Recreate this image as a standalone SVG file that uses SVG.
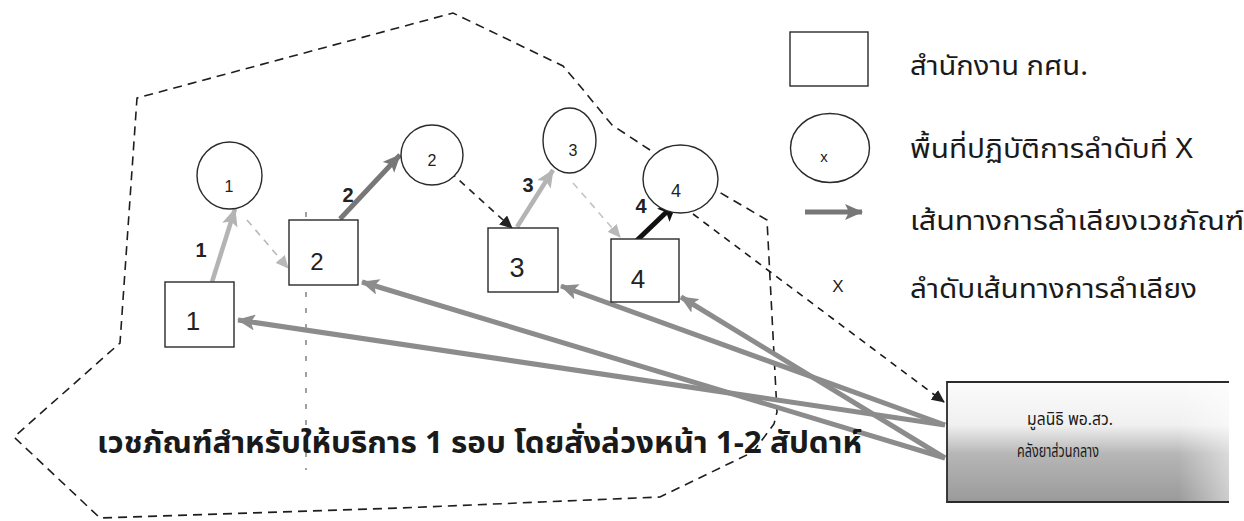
<svg xmlns="http://www.w3.org/2000/svg" width="1244" height="521" viewBox="0 0 1244 521">
  <style>
    .thai { font-family: "Noto Sans Thai", "Noto Sans Thai UI", "Loma", "Garuda", "Tlwg Typo", "Noto Sans", "DejaVu Sans", sans-serif; fill: #1a1a1a; }
    .num { font-family: "Liberation Sans", Arial, sans-serif; fill: #222; }
    .box { fill: #ffffff; stroke: #2a2a2a; stroke-width: 1.4; }
    .area { fill: #ffffff; stroke: #2a2a2a; stroke-width: 1.4; }
    .boundary { fill: none; stroke: #1e1e1e; stroke-width: 1.6; stroke-dasharray: 9 6; }
    .supply { fill: none; stroke: #8c8c8c; stroke-width: 5; marker-end: url(#headGray); }
    .dash { fill: none; stroke-width: 1.6; stroke-dasharray: 7 6; }
  </style>
  <defs>
    <marker id="headGray" markerUnits="userSpaceOnUse" markerWidth="20" markerHeight="16" refX="17" refY="8" orient="auto">
      <path d="M0,0 L18,8 L0,16 L4,8 z" fill="#8c8c8c"/>
    </marker>
    <marker id="headDark" markerUnits="userSpaceOnUse" markerWidth="20" markerHeight="16" refX="17" refY="8" orient="auto">
      <path d="M0,0 L18,8 L0,16 L4,8 z" fill="#777"/>
    </marker>
    <marker id="headLight" markerUnits="userSpaceOnUse" markerWidth="20" markerHeight="16" refX="17" refY="8" orient="auto">
      <path d="M0,0 L18,8 L0,16 L4,8 z" fill="#b4b4b4"/>
    </marker>
    <marker id="headBlack" markerUnits="userSpaceOnUse" markerWidth="22" markerHeight="18" refX="19" refY="9" orient="auto">
      <path d="M0,0 L20,9 L0,18 L4,9 z" fill="#111"/>
    </marker>
    <marker id="headSmallLight" markerUnits="userSpaceOnUse" markerWidth="14" markerHeight="12" refX="12" refY="6" orient="auto">
      <path d="M0,0 L13,6 L0,12 z" fill="#b8b8b8"/>
    </marker>
    <marker id="headSmallBlack" markerUnits="userSpaceOnUse" markerWidth="14" markerHeight="12" refX="12" refY="6" orient="auto">
      <path d="M0,0 L13,6 L0,12 z" fill="#222"/>
    </marker>
    <linearGradient id="stockFill" x1="0" y1="0" x2="0" y2="1">
      <stop offset="0" stop-color="#fbfbfb"/>
      <stop offset="0.36" stop-color="#f0f0f0"/>
      <stop offset="0.6" stop-color="#b6b6b6"/>
      <stop offset="1" stop-color="#9a9a9a"/>
    </linearGradient>
    <linearGradient id="stockFade" x1="0" y1="0" x2="1" y2="0">
      <stop offset="0.82" stop-color="#ffffff" stop-opacity="0"/>
      <stop offset="1" stop-color="#ffffff" stop-opacity="0.5"/>
    </linearGradient>
  </defs>

  <rect x="0" y="0" width="1244" height="521" fill="#ffffff"/>

  <!-- service area outline -->
  <g id="service-area">
    <path class="boundary" d="M650,150 L612,125 L580,86 L563,66 L453,13 L137,98 L120,343 L14,437 L100,518 L400,508 L660,497 L753,452 L774,424 L777,412 L767,220 L719,192"/>
    <path d="M306,212 L306,470" fill="none" stroke="#333" stroke-width="1.3" stroke-dasharray="5 11" opacity="0.7"/>
  </g>

  <!-- connectors -->
  <g id="connectors">
    <!-- supply from the central store to each office -->
    <path class="supply" d="M945,425 L238,320"/>
    <path class="supply" d="M945,458 L362,282"/>
    <path class="supply" d="M945,425 L561,286"/>
    <path class="supply" d="M945,458 L681,297"/>

    <!-- office to operating area -->
    <path d="M212,282 L235,209" fill="none" stroke="#b4b4b4" stroke-width="4.5" marker-end="url(#headLight)"/>
    <path d="M340,219 L400,155" fill="none" stroke="#777" stroke-width="5" marker-end="url(#headDark)"/>
    <path d="M517,227 L553,170" fill="none" stroke="#b4b4b4" stroke-width="4.5" marker-end="url(#headLight)"/>
    <path d="M630,247 L677,202" fill="none" stroke="#111" stroke-width="5" marker-end="url(#headBlack)"/>

    <!-- onward movement between areas -->
    <path class="dash" d="M247,220 L288,268" stroke="#b8b8b8" marker-end="url(#headSmallLight)"/>
    <path class="dash" d="M450,172 L512,228" stroke="#222" marker-end="url(#headSmallBlack)"/>
    <path class="dash" d="M573,183 L620,237" stroke="#c4c4c4" marker-end="url(#headSmallLight)"/>
    <path class="dash" d="M693,214 L944,402" stroke="#1a1a1a" marker-end="url(#headSmallBlack)"/>
  </g>

  <!-- offices -->
  <g id="office-1">
    <rect class="box" x="165" y="282" width="69" height="65"/>
    <text class="num" x="193" y="330" font-size="26" text-anchor="middle">1</text>
  </g>
  <g id="office-2">
    <rect class="box" x="289" y="220" width="69" height="65"/>
    <text class="num" x="317" y="270" font-size="24" text-anchor="middle">2</text>
  </g>
  <g id="office-3">
    <rect class="box" x="488" y="228" width="70" height="64"/>
    <text class="num" x="517" y="277" font-size="27" text-anchor="middle">3</text>
  </g>
  <g id="office-4">
    <rect class="box" x="611" y="239" width="68" height="63"/>
    <text class="num" x="638" y="288" font-size="26" text-anchor="middle">4</text>
  </g>

  <!-- operating areas -->
  <g id="area-1">
    <ellipse class="area" cx="229.5" cy="175.5" rx="32.5" ry="33.5" fill="none"/>
    <text class="num" x="229" y="192" font-size="16" text-anchor="middle">1</text>
  </g>
  <g id="area-2">
    <ellipse class="area" cx="432" cy="155" rx="31" ry="30" fill="none"/>
    <text class="num" x="432" y="166" font-size="16" text-anchor="middle">2</text>
  </g>
  <g id="area-3">
    <ellipse class="area" cx="569.5" cy="140.5" rx="26.5" ry="32.5" fill="none"/>
    <text class="num" x="573" y="156" font-size="16" text-anchor="middle">3</text>
  </g>
  <g id="area-4">
    <ellipse class="area" cx="680.5" cy="179" rx="37.5" ry="34" fill="none"/>
    <text class="num" x="676" y="197" font-size="18" text-anchor="middle">4</text>
  </g>

  <!-- route order labels -->
  <g id="route-labels">
    <text class="num" x="201" y="257" font-size="20" font-weight="bold" text-anchor="middle">1</text>
    <text class="num" x="348" y="202" font-size="20" font-weight="bold" text-anchor="middle" fill="#444">2</text>
    <text class="num" x="528" y="192" font-size="20" font-weight="bold" text-anchor="middle">3</text>
    <text class="num" x="641" y="213" font-size="20" font-weight="bold" text-anchor="middle">4</text>
  </g>

  <!-- central medicine store -->
  <g id="central-store">
    <rect x="947" y="382" width="282" height="120" fill="url(#stockFill)"/>
    <rect x="947" y="382" width="282" height="120" fill="url(#stockFade)"/>
    <path d="M1229,382 L947,382 L947,502 L1229,502" fill="none" stroke="#2a2a2a" stroke-width="1.8"/>
    <text class="thai" x="1070" y="425" font-size="17" text-anchor="middle" textLength="86" lengthAdjust="spacingAndGlyphs">มูลนิธิ พอ.สว.</text>
    <text class="thai" x="1058" y="457" font-size="17" text-anchor="middle" textLength="82" lengthAdjust="spacingAndGlyphs">คลังยาส่วนกลาง</text>
  </g>

  <!-- caption -->
  <g id="caption">
    <text class="thai" x="97" y="453" font-size="30" font-weight="bold" textLength="765" lengthAdjust="spacingAndGlyphs">เวชภัณฑ์สำหรับให้บริการ 1 รอบ โดยสั่งล่วงหน้า 1-2 สัปดาห์</text>
  </g>

  <!-- legend -->
  <g id="legend">
    <g id="legend-office">
      <rect class="box" x="790" y="32" width="78" height="54"/>
      <text class="thai" x="910" y="75" font-size="27" textLength="178" lengthAdjust="spacingAndGlyphs">สำนักงาน กศน.</text>
    </g>
    <g id="legend-area">
      <ellipse class="area" cx="830" cy="148" rx="39.5" ry="34.5" fill="none"/>
      <text class="num" x="824" y="162" font-size="15" text-anchor="middle">x</text>
      <text class="thai" x="910" y="158" font-size="27" textLength="283" lengthAdjust="spacingAndGlyphs">พื้นที่ปฏิบัติการลำดับที่ X</text>
    </g>
    <g id="legend-route">
      <path d="M805,212 L862,212" fill="none" stroke="#777" stroke-width="5" marker-end="url(#headDark)"/>
      <text class="thai" x="910" y="230" font-size="27" textLength="334" lengthAdjust="spacingAndGlyphs">เส้นทางการลำเลียงเวชภัณฑ์</text>
    </g>
    <g id="legend-order">
      <text class="num" x="838" y="292" font-size="17" text-anchor="middle">X</text>
      <text class="thai" x="910" y="298" font-size="27" textLength="287" lengthAdjust="spacingAndGlyphs">ลำดับเส้นทางการลำเลียง</text>
    </g>
  </g>
</svg>
